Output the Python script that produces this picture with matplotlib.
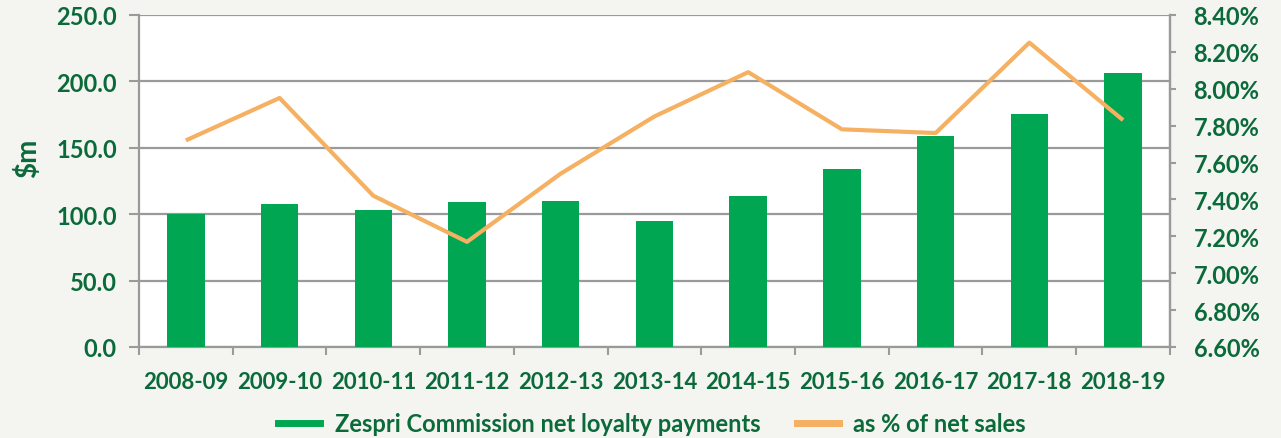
import numpy as np
import matplotlib.pyplot as plt
from matplotlib.lines import Line2D
from matplotlib.ticker import FuncFormatter, MultipleLocator

seasons = ['2008-09', '2009-10', '2010-11', '2011-12', '2012-13', '2013-14',
           '2014-15', '2015-16', '2016-17', '2017-18', '2018-19']
payments = [100.5, 108.0, 103.2, 109.2, 109.7, 94.7, 113.6, 134.0, 159.0, 175.3, 206.3]
pct_sales = [7.72, 7.95, 7.42, 7.17, 7.54, 7.85, 8.09, 7.78, 7.76, 8.25, 7.83]

green = '#00a651'
orange = '#f5b062'
text_green = '#0b6a3a'
grid_grey = '#9a9a9a'

plt.rcParams['font.family'] = ['Lato', 'DejaVu Sans']

fig = plt.figure(figsize=(12.81, 4.39), dpi=100, facecolor='#f4f4f1')
ax = fig.add_axes([0.1085, 0.2073, 0.8048, 0.7563])
ax.set_facecolor('white')
x = np.arange(len(seasons))

ax.bar(x, payments, width=0.4, color=green, zorder=3)
ax.set_xlim(-0.5, len(seasons) - 0.5)
ax.set_ylim(0, 250)
ax.yaxis.set_major_locator(MultipleLocator(50))
ax.yaxis.set_major_formatter(FuncFormatter(lambda v, p: '%.1f' % v))
ax.grid(axis='y', color=grid_grey, linewidth=1.6, zorder=0)
ax.set_xticks(x)
ax.set_xticklabels(seasons)
ax.set_xticks(np.arange(-0.5, len(seasons), 1), minor=True)
ax.tick_params(axis='x', which='major', length=0, pad=17, labelsize=16, labelcolor=text_green)
ax.tick_params(axis='x', which='minor', length=6, width=1.5, color=grid_grey)
ax.tick_params(axis='y', length=7, width=1.5, color=grid_grey, labelsize=17, labelcolor=text_green, pad=9)
for lab in ax.get_xticklabels() + ax.get_yticklabels():
    lab.set_fontweight('bold')
ax.spines['top'].set_visible(False)
for s in ['left', 'bottom', 'right']:
    ax.spines[s].set_color(grid_grey)
    ax.spines[s].set_linewidth(1.6)

# y label sits a little above the middle of the axis
fig.text(28 / 1281, 1 - 158 / 439, '$m', rotation=90, ha='center', va='center',
         fontsize=20, fontweight='bold', color=text_green)

ax2 = ax.twinx()
ax2.plot(x, pct_sales, color=orange, linewidth=3, zorder=4, solid_capstyle='butt')
ax2.set_ylim(6.6, 8.4)
ax2.set_yticks(np.arange(6.6, 8.41, 0.2))
ax2.yaxis.set_major_formatter(FuncFormatter(lambda v, p: '%.2f%%' % v))
ax2.tick_params(axis='y', length=4, width=1.5, color=grid_grey, labelsize=17, labelcolor=text_green, pad=13)
for lab in ax2.get_yticklabels():
    lab.set_fontweight('bold')
for s in ['top', 'left', 'bottom']:
    ax2.spines[s].set_visible(False)
ax2.spines['right'].set_color(grid_grey)
ax2.spines['right'].set_linewidth(1.6)

handles = [Line2D([0], [0], color=green, linewidth=5),
           Line2D([0], [0], color=orange, linewidth=5)]
fig.legend(handles, ['Zespri Commission net loyalty payments', 'as % of net sales'],
           loc='center', bbox_to_anchor=(0.509, 0.032), ncol=2, frameon=False,
           handlelength=1.8, columnspacing=1.55, handletextpad=0.6,
           prop={'family': ['Lato', 'DejaVu Sans'], 'size': 17, 'weight': 'bold'},
           labelcolor=text_green)

fig.savefig('out.png', dpi=100, facecolor=fig.get_facecolor())
